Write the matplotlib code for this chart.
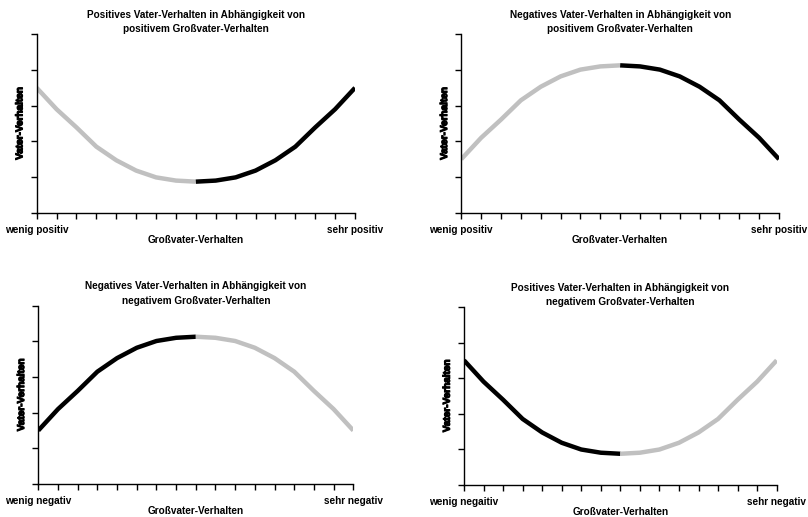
import numpy as np
import matplotlib
matplotlib.use('Agg')
import matplotlib.pyplot as plt
import matplotlib.patheffects as pe

plt.rcParams['font.family'] = ['Liberation Sans', 'DejaVu Sans']

# x positions (Großvater-Verhalten), 17 steps
x_steps = list(range(17))

# Vater-Verhalten, U-shape (positive) and inverted (negative)
u_curve = [3.50, 2.90, 2.39, 1.85, 1.47, 1.18, 0.99, 0.90, 0.87,
           0.90, 0.99, 1.18, 1.47, 1.85, 2.39, 2.90, 3.50]
n_curve = [1.50, 2.10, 2.61, 3.15, 3.53, 3.82, 4.01, 4.10, 4.13,
           4.10, 4.01, 3.82, 3.53, 3.15, 2.61, 2.10, 1.50]

titles = ['Positives Vater-Verhalten in Abhängigkeit von\npositivem Großvater-Verhalten',
          'Negatives Vater-Verhalten in Abhängigkeit von\npositivem Großvater-Verhalten',
          'Negatives Vater-Verhalten in Abhängigkeit von\nnegativem Großvater-Verhalten',
          'Positives Vater-Verhalten in Abhängigkeit von\nnegativem Großvater-Verhalten']
end_labels = [('wenig positiv', 'sehr positiv'),
              ('wenig positiv', 'sehr positiv'),
              ('wenig negativ', 'sehr negativ'),
              ('wenig negaitiv', 'sehr negativ')]
curves = [u_curve, n_curve, n_curve, u_curve]
# colour of left half / right half
halves = [('#c0c0c0', 'black'), ('#c0c0c0', 'black'),
          ('black', '#c0c0c0'), ('black', '#c0c0c0')]

W, H = 808, 517
# axes boxes in pixels: left, right, top, bottom
boxes = [(36.7, 355.0, 34.3, 212.7),
         (461.3, 779.0, 34.3, 212.7),
         (38.3, 353.3, 305.7, 484.0),
         (464.0, 776.7, 307.0, 484.7)]

fig = plt.figure(figsize=(W / 100, H / 100), dpi=100)

for i in range(4):
    l, r, t, b = boxes[i]
    ax = fig.add_axes([l / W, 1 - b / H, (r - l) / W, (b - t) / H])
    y = curves[i]
    mid = 8
    ax.plot(x_steps[:mid + 1], y[:mid + 1], color=halves[i][0], lw=3.2,
            solid_capstyle='butt', solid_joinstyle='round')
    ax.plot(x_steps[mid:], y[mid:], color=halves[i][1], lw=3.2,
            solid_capstyle='butt', solid_joinstyle='round')

    ax.set_xlim(0, 16)
    ax.set_ylim(0, 5)
    for s in ['top', 'right']:
        ax.spines[s].set_visible(False)
    for s in ['left', 'bottom']:
        ax.spines[s].set_linewidth(1.0)
    ax.set_yticks(range(6))
    ax.set_yticklabels([])
    ax.set_xticks([0, 16])
    ax.set_xticklabels(end_labels[i], fontsize=7.2, fontweight='bold')
    ax.set_xticks(x_steps, minor=True)
    ax.tick_params(which='both', direction='out', length=4.3, width=1.0, pad=4.5)
    ax.set_xlabel('Großvater-Verhalten', fontsize=7.2, fontweight='bold', labelpad=0)
    ax.set_ylabel('Vater-Verhalten', fontsize=7.2, fontweight='bold', labelpad=0,
                  path_effects=[pe.withStroke(linewidth=0.8, foreground='black')])
    ax.set_title(titles[i], fontsize=7.2, fontweight='bold', linespacing=1.55, pad=1.5)

fig.savefig('out.png', dpi=100)
